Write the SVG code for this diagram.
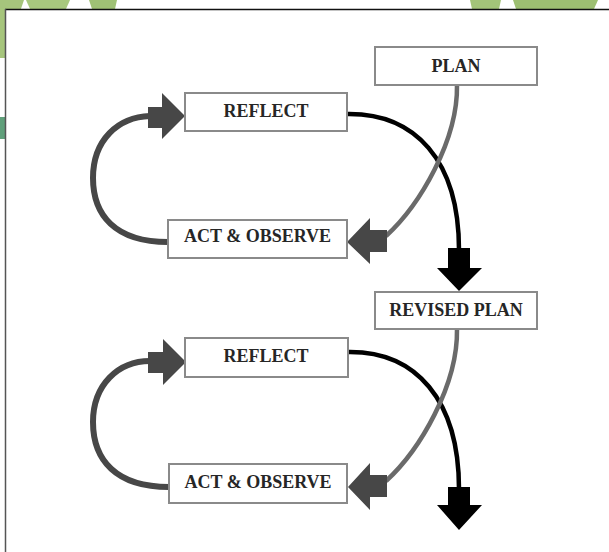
<svg xmlns="http://www.w3.org/2000/svg" width="609" height="552" viewBox="0 0 609 552">
<style>
.box{fill:#fff;stroke:#8a8a8a;stroke-width:2}
.lbl{font-family:"Liberation Serif","Times New Roman",serif;font-weight:bold;font-size:18px;fill:#262626;text-anchor:middle}
.loop{fill:none;stroke:#474747;stroke-width:6}
.blk{fill:none;stroke:#000;stroke-width:4.5}
.gry{fill:none;stroke:#6a6a6a;stroke-width:4.5}
.ahd{fill:#474747}
.bhd{fill:#000}
</style>
<rect x="0" y="0" width="609" height="552" fill="#fff"/>
<g id="decoration">
<path d="M0,0 L24,0 Q14,28 5,58 L0,58 Z" fill="#a6c57c"/>
<path d="M26,0 L70,0 L66,9 L30,9 Z" fill="#a8c87e"/>
<path d="M89,0 L117,0 L115,9 L92,9 Z" fill="#9fc175"/>
<path d="M470,0 L501,0 L499,9 L472,9 Z" fill="#a3c479"/>
<path d="M513,0 L598,0 L594,9 L516,9 Z" fill="#9dbf72"/>
<rect x="0" y="117" width="5" height="22" fill="#5f9f7a"/>
<rect x="5" y="9" width="604" height="543" fill="#fff"/>
<line x1="5" y1="9.5" x2="609" y2="9.5" stroke="#111" stroke-width="1.5"/>
<line x1="5.5" y1="9" x2="5.5" y2="552" stroke="#555" stroke-width="1.5"/>
</g>
<g id="connectors">
<path class="loop" d="M168,242 C115,242 93,215 93,178 C93,140 118,117 150,116"/>
<polygon class="ahd" points="148,107 162,107 162,93 185,116 162,139 162,128 148,128"/>
<path class="blk" d="M347,114 C415,113 459,160 459,250"/>
<polygon class="bhd" points="448,248 470,248 470,268 482,268 459,291 437,268 448,268"/>
<path class="gry" d="M457,85 C458,140 420,205 386,236"/>
<polygon class="ahd" points="387,230 387,252 370,252 370,264 347,242 370,218 370,230"/>
<path class="loop" d="M169,487 C116,487 93,460 93,422 C93,385 118,361 150,361"/>
<polygon class="ahd" points="148,352 163,352 163,339 186,362 163,385 163,373 148,373"/>
<path class="blk" d="M348,352 C416,351 459,400 459,489"/>
<polygon class="bhd" points="448,487 470,487 470,505 482,505 459,530 437,505 448,505"/>
<path class="gry" d="M457,329 C458,385 420,450 386,481"/>
<polygon class="ahd" points="387,475 387,497 370,497 370,510 348,487 370,463 370,475"/>
</g>
<g id="plan">
<rect class="box" x="375" y="47" width="162" height="38"/>
<text class="lbl" x="456" y="72">PLAN</text>
</g>
<g id="reflect1">
<rect class="box" x="185" y="93" width="162" height="38"/>
<text class="lbl" x="266" y="117">REFLECT</text>
</g>
<g id="act1">
<rect class="box" x="168" y="220" width="179" height="38"/>
<text class="lbl" x="257.5" y="242">ACT &amp; OBSERVE</text>
</g>
<g id="revised-plan">
<rect class="box" x="375" y="292" width="162" height="37"/>
<text class="lbl" x="456" y="316">REVISED PLAN</text>
</g>
<g id="reflect2">
<rect class="box" x="185" y="338" width="163" height="39"/>
<text class="lbl" x="266" y="362">REFLECT</text>
</g>
<g id="act2">
<rect class="box" x="169" y="464" width="178" height="39"/>
<text class="lbl" x="258" y="488">ACT &amp; OBSERVE</text>
</g>
</svg>
